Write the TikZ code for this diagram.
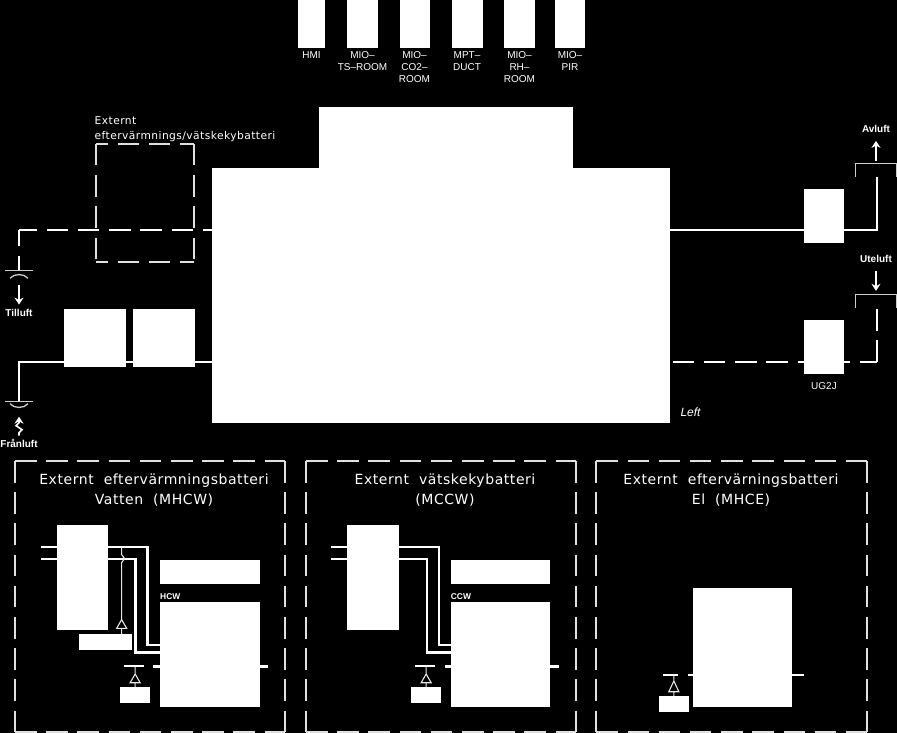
\documentclass[tikz,border=0pt]{standalone}
\usepackage{fontspec}
\usepackage{tikz}
\usetikzlibrary{arrows.meta,positioning}
\newfontfamily\labelfont{Liberation Sans}
\newfontfamily\plotfont[LetterSpace=4]{DejaVu Sans}

\begin{document}
\begin{tikzpicture}[x=1pt, y=-1pt, >={Stealth[length=7pt,width=9pt]},
    whitebox/.style={fill=white, inner sep=0pt, outer sep=0pt, anchor=north west},
    framebox/.style={inner sep=0pt, outer sep=0pt, anchor=north west},
    frameline/.style={draw=white!88!black, line width=1.7pt, dash pattern=on 21.5pt off 9.7pt},
    airline/.style={draw=white, line width=2pt},
    airdash/.style={draw=white, line width=2.4pt, dash pattern=on 21.5pt off 9.7pt},
    damper/.style={draw=white!80!black, line width=1.3pt},
    airarrow/.style={->, draw=white, line width=1.6pt},
    pipe/.style={draw=white, line width=2.6pt},
    thinline/.style={draw=white!90!black, line width=1.1pt},
    stubline/.style={draw=white, line width=2.3pt},
    toplabel/.style={text=white, inner sep=0pt, align=center, font=\labelfont\fontsize{10}{11.6}\selectfont},
    airlabel/.style={text=white, inner sep=0pt, font=\labelfont\bfseries\fontsize{10}{11}\selectfont},
    coillabel/.style={text=white, inner sep=0pt, anchor=west, font=\labelfont\bfseries\fontsize{8.4}{10}\selectfont},
    paneltitle/.style={text=white, inner sep=0pt, align=center, font=\plotfont\fontsize{14}{20}\selectfont}]

    % Background
    \fill[black] (0,0) rectangle (897,733);
    \useasboundingbox (0,0) rectangle (897,733);

    % Main unit
    \node[whitebox, minimum width=458pt, minimum height=255pt] (Main) at (212,168) {};
    \node[whitebox, minimum width=254pt, minimum height=62pt] (MainTop) at (319,107) {};
    \node[text=white, inner sep=0pt, font=\labelfont\itshape\fontsize{12}{14}\selectfont] (LeftLabel) at (690.5,412) {Left};

    % Room units
    \node[whitebox, minimum width=27pt, minimum height=48pt] (HMI) at (298,0) {};
    \node[whitebox, minimum width=31pt, minimum height=48pt] (TSroom) at (347,0) {};
    \node[whitebox, minimum width=30pt, minimum height=48pt] (COroom) at (399.5,0) {};
    \node[whitebox, minimum width=31pt, minimum height=48pt] (MPTduct) at (451.5,0) {};
    \node[whitebox, minimum width=31pt, minimum height=48pt] (RHroom) at (504,0) {};
    \node[whitebox, minimum width=30pt, minimum height=48pt] (PIR) at (555,0) {};
    \node[toplabel, below=3.7pt of HMI] (HMIlabel) {HMI};
    \node[toplabel, below=3.7pt of TSroom] (TSlabel) {MIO–\\TS–ROOM};
    \node[toplabel, below=3.7pt of COroom] (COlabel) {MIO–\\CO2–\\ROOM};
    \node[toplabel, below=3.7pt of MPTduct] (MPTlabel) {MPT–\\DUCT};
    \node[toplabel, below=3.7pt of RHroom] (RHlabel) {MIO–\\RH–\\ROOM};
    \node[toplabel, below=3.7pt of PIR] (PIRlabel) {MIO–\\PIR};

    % External coil in the duct
    \node[framebox, minimum width=98.3pt, minimum height=118.3pt] (ExtCoil) at (96,144) {};
    \draw[frameline, dash phase=9.5pt] (ExtCoil.north west) -- (ExtCoil.north east) (ExtCoil.south west) -- (ExtCoil.south east);
    \draw[frameline] (ExtCoil.north west) -- (ExtCoil.south west) (ExtCoil.north east) -- (ExtCoil.south east);
    \node[text=white, inner sep=0pt, anchor=west, align=left, font=\plotfont\fontsize{10.7}{15}\selectfont] (ExtLabel) at (94.5,129) {Externt\\eftervärmnings/vätskekybatteri};

    % Supply air
    \coordinate (SupCorner) at (19,230);
    \coordinate (SupDamper) at (19,270.3);
    \draw[airdash, dash phase=3.5pt] (SupCorner) -- (Main.west |- SupCorner);
    \draw[airdash, dash phase=5.5pt] (SupCorner) -- (SupDamper);
    \draw[damper] ([xshift=-14pt]SupDamper) -- ([xshift=14pt]SupDamper);
    \draw[damper] ([shift={(-9pt,-8pt)}]SupDamper) .. controls ([shift={(-5pt,-3pt)}]SupDamper) and ([shift={(5pt,-3pt)}]SupDamper) .. ([shift={(9pt,-8pt)}]SupDamper);
    \node[airlabel] (Tilluft) at (19,312.5) {Tilluft};
    \draw[airarrow] ([yshift=24pt]Tilluft.north) -- ([yshift=4pt]Tilluft.north);

    % Extract air
    \node[whitebox, minimum width=62pt, minimum height=58.6pt] (FilterA) at (64,308.7) {};
    \node[whitebox, minimum width=62pt, minimum height=58.6pt] (FilterB) at (132.7,308.7) {};
    \coordinate (ExtrDamper) at (19,401.7);
    \draw[airline] ([yshift=61.3pt]Main.south west) -| (ExtrDamper);
    \draw[damper] ([xshift=-14pt]ExtrDamper) -- ([xshift=14pt]ExtrDamper);
    \draw[damper] ([shift={(-9pt,-2pt)}]ExtrDamper) .. controls ([shift={(-5pt,-7pt)}]ExtrDamper) and ([shift={(5pt,-7pt)}]ExtrDamper) .. ([shift={(9pt,-2pt)}]ExtrDamper);
    \node[airlabel] (Franluft) at (19,443) {Frånluft};
    \draw[airarrow] ([yshift=3pt]Franluft.north) -- ++(0,-3) -- ++(3,-3) -- ++(-6,-4) -- ++(3,-3) -- ++(0,-6);

    % Exhaust air
    \node[whitebox, minimum width=39.4pt, minimum height=54pt] (ExhBox) at (804.3,188.7) {};
    \coordinate (ExhEnd) at (876.7,176.7);
    \draw[airline] ([yshift=-14.6pt]Main.east |- ExhBox.center) -- ++(206.7,0) -- (ExhEnd);
    \coordinate (ExhBracket) at (855.7,176.7);
    \draw[damper] (ExhBracket) -- ++(0,-13.4) -- ++(40.5,0) -- ++(0,13.4);
    \node[airlabel] (Avluft) at (876,129) {Avluft};
    \draw[airarrow] ([yshift=-28pt]Avluft.south) -- ([yshift=-8pt]Avluft.south);

    % Outdoor air
    \node[whitebox, minimum width=39.4pt, minimum height=54.3pt] (OutBox) at (804.3,319.7) {};
    \coordinate (OutCorner) at (876.7,361.7);
    \coordinate (OutEnd) at (876.7,307);
    \draw[airdash, dash phase=28.5pt] (Main.east |- OutCorner) -- (OutCorner);
    \draw[airdash] (OutCorner) -- (OutEnd);
    \coordinate (OutBracket) at (855.7,307.7);
    \draw[damper] (OutBracket) -- ++(0,-13.4) -- ++(40.5,0) -- ++(0,13.4);
    \node[airlabel] (Uteluft) at (876,259) {Uteluft};
    \draw[airarrow] ([yshift=-8pt]Uteluft.south) -- ([yshift=-28pt]Uteluft.south);
    \node[airlabel, font=\labelfont\fontsize{10}{11}\selectfont, below=8.5pt of OutBox] (OutLabel) {UG2J};

    % Panel: water heating coil
    \node[framebox, minimum width=270.3pt, minimum height=270.7pt] (PanelA) at (15,461) {};
    \draw[frameline] (PanelA.north west) -- (PanelA.north east) (PanelA.north east) -- (PanelA.south east) (PanelA.north west) -- (PanelA.south west) (PanelA.south west) -- (PanelA.south east);
    \node[paneltitle] (TitleA) at (154,490) {Externt\ \ eftervärmningsbatteri\\Vatten\ \ (MHCW)};
    \node[whitebox, minimum width=51pt, minimum height=104.4pt] (ExchA) at (56.7,525.3) {};
    \node[whitebox, minimum width=99.7pt, minimum height=23.4pt] (PumpA) at (160,560.3) {};
    \node[whitebox, minimum width=99.7pt, minimum height=105.3pt] (CoilA) at (160,601.7) {};
    \node[coillabel] (CoilLabelA) at (160,597) {HCW};
    \node[whitebox, minimum width=52.7pt, minimum height=16pt] (ShuntA) at (79.3,634.3) {};
    \node[whitebox, minimum width=29.7pt, minimum height=16pt] (ActA) at (120.3,687.3) {};
    \draw[stubline] ([yshift=30.5pt]ExchA.west) -- ++(-16,0);
    \draw[stubline] ([yshift=18.5pt]ExchA.west) -- ++(-16,0);
    \draw[pipe] ([yshift=30.5pt]ExchA.east) -- ++(39.5,0) |- ([yshift=9.3pt]CoilA.west);
    \draw[pipe] ([yshift=18.5pt]ExchA.east) -- ++(28,0) |- ([yshift=2pt]CoilA.west);
    \draw[thinline] ([xshift=16pt]ShuntA.north) -- ++(0,-6) -- ++(5,0) -- ++(-5,-8.7) -- ++(-5,8.7) -- ++(5,0) ++(0,-8.7) -- ++(0,-57) -- ++(3,-4) -- ++(-3,-4) -- ++(0,-7);
    \draw[stubline] ([yshift=-12pt]CoilA.west) -- ++(-6.7,0);
    \draw[stubline] ([yshift=-12pt]CoilA.east) -- ++(8.3,0);
    \draw[thinline] (ActA.north) -- ++(0,-4.6) -- ++(5,0) -- ++(-5,-8.7) -- ++(-5,8.7) -- ++(5,0) ++(0,-8.7) -- ++(0,-7.7);
    \draw[stubline] ([shift={(-11pt,21pt)}]ActA.north) -- ++(19.5,0);

    % Panel: water cooling coil
    \node[framebox, minimum width=270.3pt, minimum height=270.7pt] (PanelB) at (306,461) {};
    \draw[frameline] (PanelB.north west) -- (PanelB.north east) (PanelB.north east) -- (PanelB.south east) (PanelB.north west) -- (PanelB.south west) (PanelB.south west) -- (PanelB.south east);
    \node[paneltitle] (TitleB) at (445,490) {Externt\ \ vätskekybatteri\\(MCCW)};
    \node[whitebox, minimum width=51.6pt, minimum height=104.4pt] (ExchB) at (347.4,525.3) {};
    \node[whitebox, minimum width=99.7pt, minimum height=23.4pt] (PumpB) at (450.7,560.3) {};
    \node[whitebox, minimum width=99.7pt, minimum height=105.3pt] (CoilB) at (450.7,601.7) {};
    \node[coillabel] (CoilLabelB) at (450.7,597) {CCW};
    \node[whitebox, minimum width=29.7pt, minimum height=16pt] (ActB) at (411.3,687.3) {};
    \draw[stubline] ([yshift=30.5pt]ExchB.west) -- ++(-16,0);
    \draw[stubline] ([yshift=18.5pt]ExchB.west) -- ++(-16,0);
    \draw[pipe] ([yshift=30.5pt]ExchB.east) -- ++(40,0) |- ([yshift=9.3pt]CoilB.west);
    \draw[pipe] ([yshift=18.5pt]ExchB.east) -- ++(28,0) |- ([yshift=2pt]CoilB.west);
    \draw[stubline] ([yshift=-12pt]CoilB.west) -- ++(-6,0);
    \draw[stubline] ([yshift=-12pt]CoilB.east) -- ++(8.5,0);
    \draw[thinline] (ActB.north) -- ++(0,-4.6) -- ++(5,0) -- ++(-5,-8.7) -- ++(-5,8.7) -- ++(5,0) ++(0,-8.7) -- ++(0,-7.7);
    \draw[stubline] ([shift={(-11pt,21pt)}]ActB.north) -- ++(20,0);

    % Panel: electric heating coil
    \node[framebox, minimum width=271pt, minimum height=270.7pt] (PanelC) at (596.3,461) {};
    \draw[frameline] (PanelC.north west) -- (PanelC.north east) (PanelC.north east) -- (PanelC.south east) (PanelC.north west) -- (PanelC.south west) (PanelC.south west) -- (PanelC.south east);
    \node[paneltitle] (TitleC) at (731,490) {Externt\ \ eftervärningsbatteri\\El\ \ (MHCE)};
    \node[whitebox, minimum width=99.3pt, minimum height=119pt] (CoilC) at (693,588) {};
    \node[whitebox, minimum width=29.7pt, minimum height=16pt] (ActC) at (659,696.3) {};
    \draw[stubline] ([yshift=-27.5pt]CoilC.west) -- ++(-5,0);
    \draw[stubline] ([yshift=-27.5pt]CoilC.east) -- ++(11.4,0);
    \draw[thinline] (ActC.north) -- ++(0,-4.6) -- ++(5,0) -- ++(-5,-10.7) -- ++(-5,10.7) -- ++(5,0) ++(0,-10.7) -- ++(0,-6);
    \draw[stubline] ([shift={(-10.5pt,21.3pt)}]ActC.north) -- ++(14.4,0);
\end{tikzpicture}
\end{document}
